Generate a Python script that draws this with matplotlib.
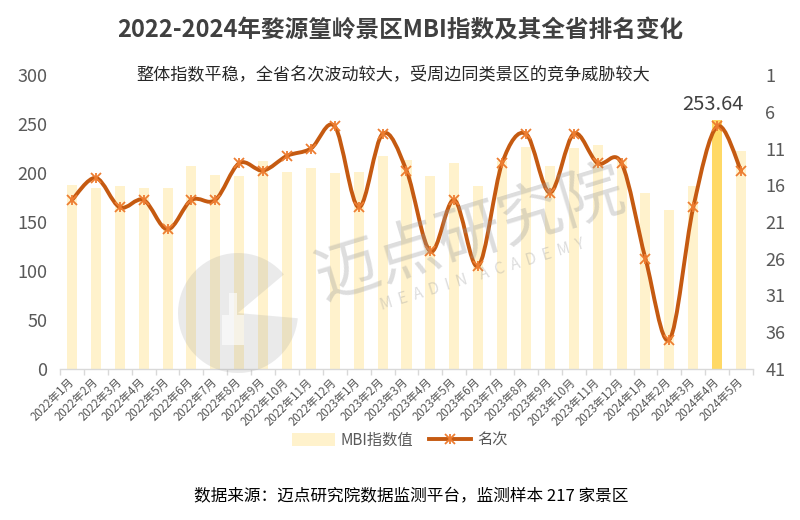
import matplotlib
matplotlib.use("Agg")
import matplotlib.pyplot as plt
from matplotlib.path import Path
from matplotlib.patches import PathPatch, Wedge, Patch, Rectangle
from matplotlib.lines import Line2D
import numpy as np

plt.rcParams['font.family'] = ['Noto Sans CJK SC', 'DejaVu Sans']

months = ["2022年1月", "2022年2月", "2022年3月", "2022年4月", "2022年5月", "2022年6月",
          "2022年7月", "2022年8月", "2022年9月", "2022年10月", "2022年11月", "2022年12月",
          "2023年1月", "2023年2月", "2023年3月", "2023年4月", "2023年5月", "2023年6月",
          "2023年7月", "2023年8月", "2023年9月", "2023年10月", "2023年11月", "2023年12月",
          "2024年1月", "2024年2月", "2024年3月", "2024年4月", "2024年5月"]
mbi = [188, 185, 187, 185, 185, 207, 198, 197, 212, 201, 205, 200, 201, 217,
       213, 197, 210, 187, 212, 227, 207, 225, 229, 213, 180, 162, 187, 253.64, 222]
rank = [18, 15, 19, 18, 22, 18, 18, 13, 14, 12, 11, 8, 19, 9,
        14, 25, 18, 27, 13, 9, 17, 9, 13, 13, 26, 37, 19, 8, 14]
highlight_label = "253.64"
left_ticks = [0, 50, 100, 150, 200, 250, 300]
right_ticks = [1, 6, 11, 16, 21, 26, 31, 36, 41]

BAR = "#FFF2CC"
BAR_HI = "#FFD966"
LINE = "#C55A11"
MARK = "#ED7D31"
TXT = "#595959"

fig = plt.figure(figsize=(8, 5.2), dpi=100)
ax = fig.add_axes([60/800, 1-369/520, 693/800, 294/520])
ax2 = ax.twinx()

x = np.arange(len(months))
colors = [BAR] * len(mbi)
hi = int(np.argmax(mbi))
colors[hi] = BAR_HI
ax.bar(x, mbi, width=0.42, color=colors, zorder=2)
ax.annotate(highlight_label, (x[hi], mbi[hi]), xytext=(-3, 4), textcoords='offset points',
            ha='center', va='bottom', fontsize=14.5, color='#404040')

ax.set_xlim(-0.5, len(months) - 0.5)
ax.set_ylim(0, 300)
ax.set_yticks(left_ticks)
ax.tick_params(axis='y', length=0, pad=9, labelsize=13, labelcolor=TXT)
ax.set_xticks(x)
ax.set_xticklabels(months, rotation=45, ha='right', va='center', rotation_mode='anchor',
                   fontsize=8.3, color=TXT)
ax.tick_params(axis='x', length=0, pad=8)
ax.set_xticks(np.arange(-0.5, len(months)), minor=True)
ax.tick_params(axis='x', which='minor', length=4, color='#D9D9D9', width=1)
for s in ['top', 'left', 'right']:
    ax.spines[s].set_visible(False)
ax.spines['bottom'].set_color('#D9D9D9')
ax.spines['bottom'].set_linewidth(1)

def smooth_path(xs, ys):
    n = len(xs)
    verts = [(xs[0], ys[0])]
    codes = [Path.MOVETO]
    for i in range(n - 1):
        p0 = (xs[i-1], ys[i-1]) if i > 0 else (xs[i], ys[i])
        p1 = (xs[i], ys[i])
        p2 = (xs[i+1], ys[i+1])
        p3 = (xs[i+2], ys[i+2]) if i + 2 < n else p2
        c1 = (p1[0] + (p2[0] - p0[0]) / 6, p1[1] + (p2[1] - p0[1]) / 6)
        c2 = (p2[0] - (p3[0] - p1[0]) / 6, p2[1] - (p3[1] - p1[1]) / 6)
        verts += [c1, c2, p2]
        codes += [Path.CURVE4] * 3
    return Path(verts, codes)

ax2.add_patch(PathPatch(smooth_path(list(x), rank), facecolor='none', edgecolor=LINE,
                        lw=2.8, capstyle='round', joinstyle='round', zorder=3))
ax2.plot(x, rank, linestyle='none', marker='x', markersize=7.5, mew=1.3, color=MARK, zorder=4)
ax2.plot(x, rank, linestyle='none', marker='|', markersize=7.5, mew=1.3, color=MARK, zorder=4)
ax2.set_ylim(41, 1)
ax2.set_yticks(right_ticks)
ax2.tick_params(axis='y', length=0, pad=9, labelsize=13, labelcolor=TXT)
for s in ['top', 'left', 'right', 'bottom']:
    ax2.spines[s].set_visible(False)

fig.text(0.5, 1-30/520, "2022-2024年婺源篁岭景区MBI指数及其全省排名变化", ha='center', va='center',
         fontsize=17, fontweight='bold', color='#404040')
fig.text(393/800, 1-75/520, "整体指数平稳，全省名次波动较大，受周边同类景区的竞争威胁较大",
         ha='center', va='center', fontsize=12.3, color='#262626')
fig.text(411/800, 1-497/520, "数据来源：迈点研究院数据监测平台，监测样本 217 家景区",
         ha='center', va='center', fontsize=12, color='#000000')

h_bar = Patch(facecolor=BAR, edgecolor='none')
h_line = (Line2D([], [], color=LINE, lw=2.8),
          Line2D([], [], linestyle='none', marker='x', markersize=7.5, mew=1.3, color=MARK),
          Line2D([], [], linestyle='none', marker='|', markersize=7.5, mew=1.3, color=MARK))
fig.legend([h_bar, h_line], ["MBI指数值", "名次"], loc='center', bbox_to_anchor=(0.5, 1-440/520),
           ncol=2, frameon=False, fontsize=11, labelcolor=TXT, handlelength=2.8,
           handleheight=0.9, columnspacing=1.0, handletextpad=0.4)

# watermark (logo circle + text), in inches so the circle stays round
wm_color = '#999999'
tr = fig.dpi_scale_trans
fig.patches.append(Wedge((2.38, 5.2-3.13), 0.6, 40, 355, transform=tr,
                         facecolor=wm_color, edgecolor='none', alpha=0.2, zorder=10))
fig.patches.append(Rectangle((2.22, 5.2-3.45), 0.22, 0.3, transform=tr,
                             facecolor='white', edgecolor='none', alpha=0.6, zorder=11))
fig.patches.append(Rectangle((2.29, 5.2-3.15), 0.08, 0.22, transform=tr,
                             facecolor='white', edgecolor='none', alpha=0.6, zorder=11))
fig.text(470/800, 1-235/520, "迈点研究院", ha='center', va='center', rotation=17,
         fontsize=46, color=wm_color, alpha=0.33, zorder=10)
fig.text(482/800, 1-275/520, "M  E  A  D  I  N    A  C  A  D  E  M  Y", ha='center', va='center',
         rotation=17, fontsize=11, color=wm_color, alpha=0.33, zorder=10)

fig.savefig("out.png", dpi=100)
